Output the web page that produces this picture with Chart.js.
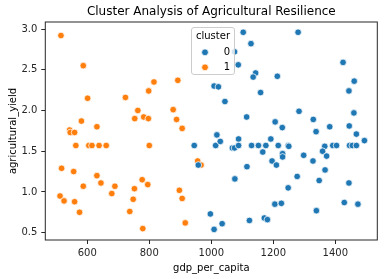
<!DOCTYPE html>
<html>
<head>
<meta charset="utf-8">
<script src="https://cdn.jsdelivr.net/npm/chart.js@4.4.1/dist/chart.umd.min.js"></script>
<style>
  html, body { margin: 0; padding: 0; background: #fff; }
  #wrap { width: 387px; height: 279px; }
</style>
</head>
<body>
<div id="wrap"><canvas id="chart"></canvas></div>
<script>
// ── Data ──────────────────────────────────────────────────────────
const clusterNames = ['0', '1'];

const cluster0X = [945, 958, 997, 1009, 1009, 1023, 1018, 1014, 1103, 1280, 1128, 1075, 1087, 1425,
  1143, 1135, 1213, 1461, 1444, 1159, 1044, 1283, 1460, 1114, 1329, 1206, 1229, 1338, 1382, 1445,
  1088, 1192, 1468, 1494, 1029, 1068, 1075, 1088, 1130, 1152, 1176, 1216, 1248, 1250, 1366, 1359,
  1392, 1404, 1446, 1455, 1468, 1166, 1230, 1230, 1298, 1372, 1196, 1210, 1328, 1115, 1367, 1277,
  1076, 1348, 1444, 1248, 1205, 1226, 1429, 1473, 1339, 1035, 1123, 1171, 1181];
const cluster0Y = [1.57, 1.33, 0.73, 0.54, 2.30, 2.29, 1.70, 1.57, 2.96, 2.96, 2.82, 2.72, 2.56, 2.59,
  2.46, 2.41, 2.42, 2.36, 2.24, 2.22, 2.11, 1.99, 1.97, 1.92, 1.89, 1.86, 1.79, 1.74, 1.80, 1.81,
  1.65, 1.65, 1.71, 1.63, 1.62, 1.54, 1.54, 1.57, 1.57, 1.57, 1.57, 1.57, 1.57, 1.56, 1.56, 1.50,
  1.57, 1.57, 1.57, 1.57, 1.57, 1.49, 1.47, 1.43, 1.45, 1.44, 1.38, 1.33, 1.38, 1.31, 1.27, 1.19,
  1.16, 1.14, 1.11, 1.05, 0.85, 0.86, 0.87, 0.85, 0.77, 0.61, 0.65, 0.68, 0.66];

const cluster1X = [515, 587, 601, 581, 543, 545, 559, 631, 563, 605, 615, 638, 661, 517, 556, 631,
  644, 587, 689, 679, 512, 525, 559, 575, 723, 763, 753, 782, 797, 798, 815, 800, 777, 795, 752,
  748, 737, 779, 892, 877, 888, 906, 956, 967, 897, 906, 916];
const cluster1Y = [2.92, 2.55, 2.15, 1.87, 1.76, 1.73, 1.73, 1.80, 1.57, 1.57, 1.57, 1.57, 1.57, 1.29,
  1.25, 1.20, 1.11, 1.07, 1.07, 0.98, 0.95, 0.89, 0.88, 0.75, 2.16, 2.00, 1.90, 1.92, 1.90, 2.24,
  2.35, 1.57, 1.15, 1.09, 1.04, 0.91, 0.76, 0.55, 2.37, 2.01, 1.89, 1.78, 1.38, 1.33, 1.02, 0.92, 0.62];

const xTicks = [600, 800, 1000, 1200, 1400];
const yTicks = [0.5, 1.0, 1.5, 2.0, 2.5, 3.0];

const BLUE = '#1f77b4';
const ORANGE = '#ff7f0e';
const FONT = '"DejaVu Sans", sans-serif';

function points(xs, ys) {
  return xs.map((x, i) => ({ x, y: ys[i] }));
}

// frame, title and legend drawn on top of the chart area
const decorations = {
  id: 'decorations',
  afterDraw(chart) {
    const { ctx, chartArea: a } = chart;
    ctx.save();
    ctx.strokeStyle = '#262626';
    ctx.lineWidth = 1;
    ctx.strokeRect(a.left, a.top, a.right - a.left, a.bottom - a.top);

    ctx.fillStyle = '#000';
    ctx.font = '12px ' + FONT;
    ctx.textAlign = 'center';
    ctx.textBaseline = 'middle';
    ctx.fillText('Cluster Analysis of Agricultural Resilience', (a.left + a.right) / 2, 12);

    // legend
    const lx = 191.5, ly = 27.5, lw = 43, lh = 47;
    ctx.beginPath();
    ctx.roundRect(lx, ly, lw, lh, 2.5);
    ctx.fillStyle = 'rgba(255,255,255,0.8)';
    ctx.fill();
    ctx.strokeStyle = '#cccccc';
    ctx.lineWidth = 1;
    ctx.stroke();

    ctx.fillStyle = '#000';
    ctx.font = '10px ' + FONT;
    ctx.fillText('cluster', lx + lw / 2, 36.5);
    [BLUE, ORANGE].forEach((c, i) => {
      const y = 52.3 + i * 15;
      ctx.beginPath();
      ctx.arc(205, y, 3.4, 0, Math.PI * 2);
      ctx.fillStyle = c;
      ctx.fill();
      ctx.strokeStyle = '#fff';
      ctx.lineWidth = 0.75;
      ctx.stroke();
      ctx.fillStyle = '#000';
      ctx.fillText(clusterNames[i], 227, y);
    });
    ctx.restore();
  },
};

new Chart(document.getElementById('chart'), {
  type: 'scatter',
  data: {
    datasets: [
      {
        label: clusterNames[0],
        data: points(cluster0X, cluster0Y),
        backgroundColor: BLUE,
        borderColor: '#fff',
        borderWidth: 0.75,
        pointRadius: 3.3,
      },
      {
        label: clusterNames[1],
        data: points(cluster1X, cluster1Y),
        backgroundColor: ORANGE,
        borderColor: '#fff',
        borderWidth: 0.75,
        pointRadius: 3.3,
      },
    ],
  },
  options: {
    responsive: true,
    maintainAspectRatio: false,
    animation: false,
    devicePixelRatio: 1,
    layout: { padding: { top: 22, right: 9.7, bottom: 0, left: 0 } },
    plugins: {
      legend: { display: false },
      tooltip: { enabled: false },
      title: { display: false },
    },
    scales: {
      x: {
        type: 'linear',
        min: 464.5,
        max: 1535.5,
        afterFit: (s) => { s.height = 39; },
        afterBuildTicks: (s) => { s.ticks = xTicks.map(v => ({ value: v })); },
        border: { display: false },
        grid: { drawOnChartArea: false, drawTicks: true, tickLength: 4, color: '#262626' },
        ticks: {
          color: '#262626',
          padding: 3,
          maxRotation: 0,
          font: { family: FONT, size: 10 },
          callback: (v) => String(v),
        },
        title: {
          display: true,
          text: 'gdp_per_capita',
          color: '#000',
          font: { family: FONT, size: 10 },
          padding: { top: 0, bottom: 5 },
        },
      },
      y: {
        type: 'linear',
        min: 0.41,
        max: 3.086,
        afterFit: (s) => { s.width = 45.3; },
        afterBuildTicks: (s) => { s.ticks = yTicks.map(v => ({ value: v })); },
        border: { display: false },
        grid: { drawOnChartArea: false, drawTicks: true, tickLength: 4, color: '#262626' },
        ticks: {
          color: '#262626',
          padding: 4,
          font: { family: FONT, size: 10 },
          callback: (v) => Number(v).toFixed(1),
        },
        title: {
          display: true,
          text: 'agricultural_yield',
          color: '#000',
          font: { family: FONT, size: 10 },
          padding: { top: 7, bottom: 0 },
        },
      },
    },
  },
  plugins: [decorations],
});
</script>
</body>
</html>
